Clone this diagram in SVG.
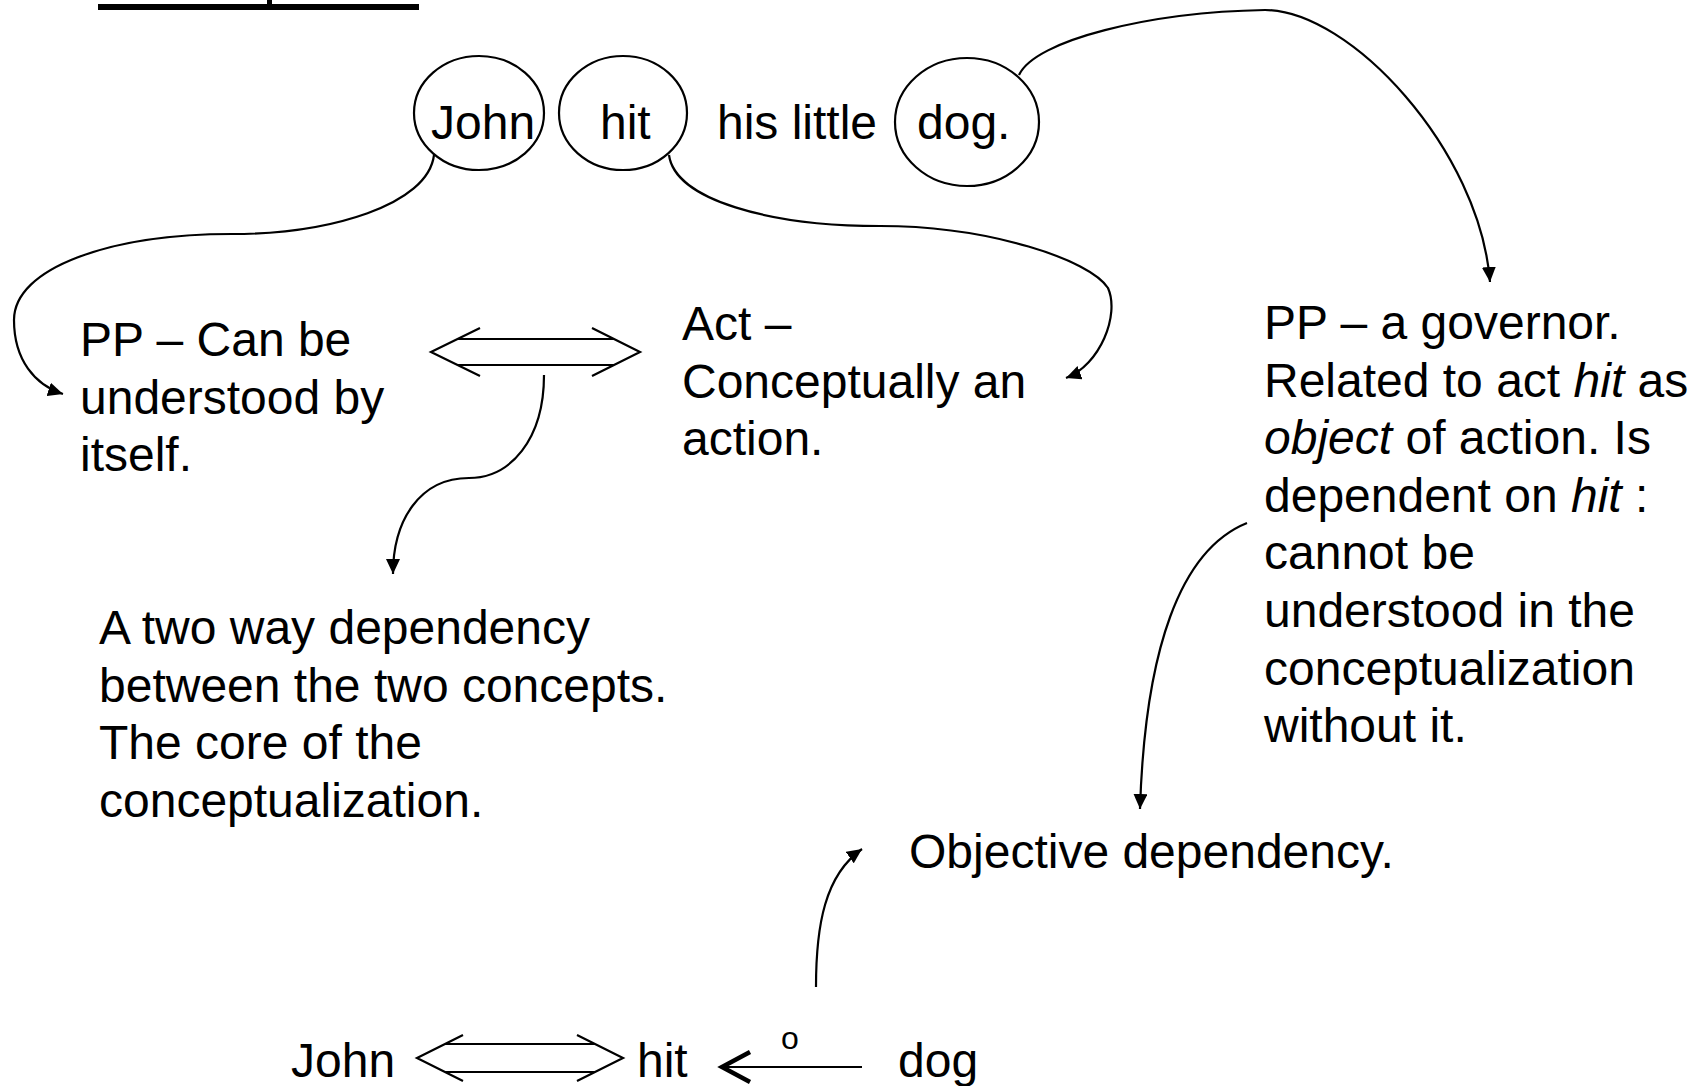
<svg xmlns="http://www.w3.org/2000/svg" width="1704" height="1086" viewBox="0 0 1704 1086">
<defs>
<style>
text { font-family: "Liberation Sans", Arial, sans-serif; font-size: 48px; fill: #000; }
.shape { fill: none; stroke: #000; stroke-width: 2.2; }
.conn { fill: none; stroke: #000; stroke-width: 2.2; }
.thick { stroke-width: 4.5; }
.it { font-style: italic; }
</style>
<marker id="arrow" markerUnits="userSpaceOnUse" markerWidth="15" markerHeight="14" viewBox="0 0 15 14" refX="15" refY="7" orient="auto">
<path d="M0,0 L15,7 L0,14 Z" fill="#000"/>
</marker>
</defs>
<rect width="1704" height="1086" fill="#fff"/>
<g id="title-underline">
<rect x="98" y="4" width="321" height="6" fill="#000"/>
<rect x="267" y="0" width="5" height="4" fill="#000"/>
</g>
<g id="node-john"><ellipse class="shape" cx="479" cy="113" rx="65" ry="57"/><text x="431" y="139">John</text></g>
<g id="node-hit"><ellipse class="shape" cx="623" cy="113" rx="64" ry="57"/><text x="600" y="139">hit</text></g>
<g id="node-his-little"><text x="717" y="139">his little</text></g>
<g id="node-dog"><ellipse class="shape" cx="967" cy="122" rx="72" ry="64"/><text x="917" y="139">dog.</text></g>
<g id="node-pp-self">
<text x="80" y="356">PP – Can be</text>
<text x="80" y="413.6">understood by</text>
<text x="80" y="471.2">itself.</text>
</g>
<g id="node-act">
<text x="682" y="340">Act –</text>
<text x="682" y="397.6">Conceptually an</text>
<text x="682" y="455.2">action.</text>
</g>
<g id="node-pp-governor">
<text x="1264" y="339">PP – a governor.</text>
<text x="1264" y="396.6">Related to act <tspan class="it">hit</tspan> as</text>
<text x="1264" y="454.2"><tspan class="it">object</tspan> of action. Is</text>
<text x="1264" y="511.8">dependent on <tspan class="it">hit</tspan> :</text>
<text x="1264" y="569.4">cannot be</text>
<text x="1264" y="627">understood in the</text>
<text x="1264" y="684.6">conceptualization</text>
<text x="1264" y="742.2">without it.</text>
</g>
<g id="node-two-way">
<text x="99" y="644">A two way dependency</text>
<text x="99" y="701.6">between the two concepts.</text>
<text x="99" y="759.2">The core of the</text>
<text x="99" y="816.8">conceptualization.</text>
</g>
<g id="node-objective"><text x="909" y="868">Objective dependency.</text></g>
<g id="node-bottom-john"><text x="291" y="1077">John</text></g>
<g id="node-bottom-hit"><text x="637" y="1077">hit</text></g>
<g id="node-bottom-dog"><text x="898" y="1077">dog</text></g>
<g id="node-bottom-o"><text x="790" y="1049" text-anchor="middle" style="font-size:32px">o</text></g>
<g id="connectors">
<path class="conn" d="M434,155 C428,205 330,234 232,234 C110,234 14,268 14,320 C14,360 35,385 63,394" marker-end="url(#arrow)"/>
<path class="conn" d="M669,155 C675,200 770,226 880,226 C990,226 1090,260 1108,288 C1120,315 1100,365 1066,378" marker-end="url(#arrow)"/>
<path class="conn" d="M1019,75 C1035,40 1150,12 1265,10 C1350,10 1480,150 1490,282" marker-end="url(#arrow)"/>
<path class="conn" d="M544,375 C544,440 510,478 469,478 C420,478 393,520 393,574" marker-end="url(#arrow)"/>
<path class="conn" d="M1247,523 C1180,550 1145,650 1140,809" marker-end="url(#arrow)"/>
<path class="conn" d="M816,987 C816,925 825,875 862,849" marker-end="url(#arrow)"/>
<path class="conn" d="M480,328 L431,352 L480,376 M592,328 L640,352 L592,376 M458,339 H614 M458,365 H614"/>
<path class="conn" d="M463,1035 L417,1058 L463,1081 M577,1035 L623,1058 L577,1081 M445,1044 H595 M445,1072 H595"/>
<path class="conn" d="M862,1067 H724"/>
<path class="conn thick" d="M750,1052 L722,1067 L750,1082"/>
</g>
</svg>
